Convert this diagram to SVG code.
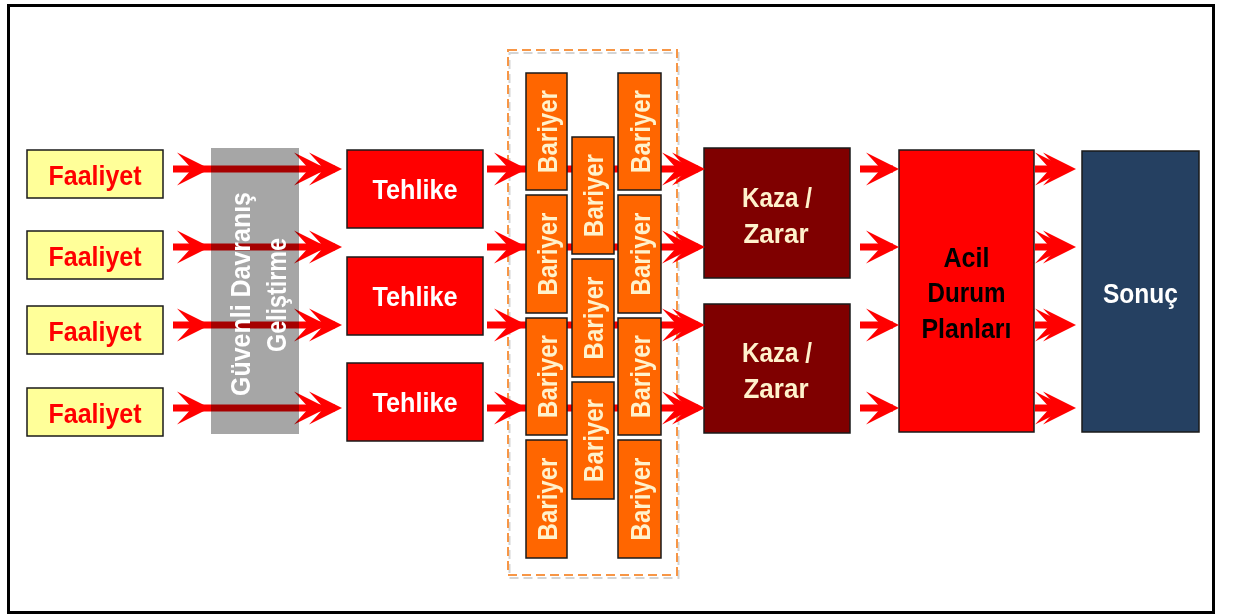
<svg xmlns="http://www.w3.org/2000/svg" xmlns:xlink="http://www.w3.org/1999/xlink" width="1236" height="615" viewBox="0 0 1236 615">
<defs>
<style>
.t{font-family:"Liberation Sans",Arial,sans-serif;font-weight:bold;font-size:28px;text-anchor:middle}
.box{stroke:#1a1a1a;stroke-width:1.5}
.faal{fill:#FFFF99}
.teh{fill:#FF0000}
.kaza{fill:#7F0000}
.acil{fill:#FF0000}
.son{fill:#254061}
.bar{fill:#FF6600}
.shaft{stroke:#FF0000;stroke-width:7;fill:none}
.hd{fill:#FF0000}
</style>
<path id="chev" d="M0,0 L-33,-16.5 L-18,0 L-33,16.5 Z"/>
</defs>
<rect width="1236" height="615" fill="#FFFFFF"/>
<rect x="8.5" y="5.5" width="1205" height="607" fill="#FFFFFF" stroke="#000000" stroke-width="3"/>
<g id="barrier-zone">
<rect x="509.5" y="53" width="169" height="525" fill="none" stroke="#D4D4D4" stroke-width="2" stroke-dasharray="9 5"/>
<rect x="508" y="50" width="169" height="525" fill="none" stroke="#F79646" stroke-width="2" stroke-dasharray="9 5"/>
</g>
<g id="faaliyet-1"><rect class="box faal" x="27" y="150" width="136" height="48"/><text class="t" x="95" y="185" fill="#FF0000" textLength="93" lengthAdjust="spacingAndGlyphs">Faaliyet</text></g>
<g id="faaliyet-2"><rect class="box faal" x="27" y="231" width="136" height="48"/><text class="t" x="95" y="266" fill="#FF0000" textLength="93" lengthAdjust="spacingAndGlyphs">Faaliyet</text></g>
<g id="faaliyet-3"><rect class="box faal" x="27" y="306" width="136" height="48"/><text class="t" x="95" y="341" fill="#FF0000" textLength="93" lengthAdjust="spacingAndGlyphs">Faaliyet</text></g>
<g id="faaliyet-4"><rect class="box faal" x="27" y="388" width="136" height="48"/><text class="t" x="95" y="423" fill="#FF0000" textLength="93" lengthAdjust="spacingAndGlyphs">Faaliyet</text></g>
<g id="tehlike-1"><rect class="box teh" x="347" y="150" width="136" height="78"/><text class="t" x="415" y="199" fill="#FFFFFF" textLength="85" lengthAdjust="spacingAndGlyphs">Tehlike</text></g>
<g id="tehlike-2"><rect class="box teh" x="347" y="257" width="136" height="78"/><text class="t" x="415" y="306" fill="#FFFFFF" textLength="85" lengthAdjust="spacingAndGlyphs">Tehlike</text></g>
<g id="tehlike-3"><rect class="box teh" x="347" y="363" width="136" height="78"/><text class="t" x="415" y="412" fill="#FFFFFF" textLength="85" lengthAdjust="spacingAndGlyphs">Tehlike</text></g>
<g id="kaza-1"><rect class="box kaza" x="704" y="148" width="146" height="130"/><text class="t" x="777" y="207" fill="#FFF2CC" textLength="70" lengthAdjust="spacingAndGlyphs">Kaza /</text><text class="t" x="776" y="243" fill="#FFF2CC" textLength="65" lengthAdjust="spacingAndGlyphs">Zarar</text></g>
<g id="kaza-2"><rect class="box kaza" x="704" y="304" width="146" height="129"/><text class="t" x="777" y="362" fill="#FFF2CC" textLength="70" lengthAdjust="spacingAndGlyphs">Kaza /</text><text class="t" x="776" y="398" fill="#FFF2CC" textLength="65" lengthAdjust="spacingAndGlyphs">Zarar</text></g>
<g id="acil"><rect class="box acil" x="899" y="150" width="135" height="282"/><text class="t" x="966.5" y="267" fill="#000000" textLength="46" lengthAdjust="spacingAndGlyphs">Acil</text><text class="t" x="966.5" y="302" fill="#000000" textLength="78" lengthAdjust="spacingAndGlyphs">Durum</text><text class="t" x="966.5" y="338" fill="#000000" textLength="90" lengthAdjust="spacingAndGlyphs">Planları</text></g>
<g id="sonuc"><rect class="box son" x="1082" y="151" width="117" height="281"/><text class="t" x="1140.5" y="303" fill="#FFFFFF" textLength="75" lengthAdjust="spacingAndGlyphs">Sonuç</text></g>
<g id="connectors">
<g id="row-1">
<line class="shaft" x1="173" y1="169" x2="335" y2="169"/>
<use href="#chev" class="hd" transform="translate(210,169)"/><use href="#chev" class="hd" transform="translate(327,169)"/><use href="#chev" class="hd" transform="translate(342,169)"/>
<line class="shaft" x1="487" y1="169" x2="698" y2="169"/>
<use href="#chev" class="hd" transform="translate(527,169)"/><use href="#chev" class="hd" transform="translate(695,169)"/><use href="#chev" class="hd" transform="translate(705,169)"/>
<line class="shaft" x1="860" y1="169" x2="893" y2="169"/>
<use href="#chev" class="hd" transform="translate(899,169)"/>
<line class="shaft" x1="1035" y1="169" x2="1068" y2="169"/>
<use href="#chev" class="hd" transform="translate(1068,169)"/><use href="#chev" class="hd" transform="translate(1076,169)"/>
</g>
<g id="row-2">
<line class="shaft" x1="173" y1="247" x2="335" y2="247"/>
<use href="#chev" class="hd" transform="translate(210,247)"/><use href="#chev" class="hd" transform="translate(327,247)"/><use href="#chev" class="hd" transform="translate(342,247)"/>
<line class="shaft" x1="487" y1="247" x2="698" y2="247"/>
<use href="#chev" class="hd" transform="translate(527,247)"/><use href="#chev" class="hd" transform="translate(695,247)"/><use href="#chev" class="hd" transform="translate(705,247)"/>
<line class="shaft" x1="860" y1="247" x2="893" y2="247"/>
<use href="#chev" class="hd" transform="translate(899,247)"/>
<line class="shaft" x1="1035" y1="247" x2="1068" y2="247"/>
<use href="#chev" class="hd" transform="translate(1068,247)"/><use href="#chev" class="hd" transform="translate(1076,247)"/>
</g>
<g id="row-3">
<line class="shaft" x1="173" y1="325" x2="335" y2="325"/>
<use href="#chev" class="hd" transform="translate(210,325)"/><use href="#chev" class="hd" transform="translate(327,325)"/><use href="#chev" class="hd" transform="translate(342,325)"/>
<line class="shaft" x1="487" y1="325" x2="698" y2="325"/>
<use href="#chev" class="hd" transform="translate(527,325)"/><use href="#chev" class="hd" transform="translate(695,325)"/><use href="#chev" class="hd" transform="translate(705,325)"/>
<line class="shaft" x1="860" y1="325" x2="893" y2="325"/>
<use href="#chev" class="hd" transform="translate(899,325)"/>
<line class="shaft" x1="1035" y1="325" x2="1068" y2="325"/>
<use href="#chev" class="hd" transform="translate(1068,325)"/><use href="#chev" class="hd" transform="translate(1076,325)"/>
</g>
<g id="row-4">
<line class="shaft" x1="173" y1="408" x2="335" y2="408"/>
<use href="#chev" class="hd" transform="translate(210,408)"/><use href="#chev" class="hd" transform="translate(327,408)"/><use href="#chev" class="hd" transform="translate(342,408)"/>
<line class="shaft" x1="487" y1="408" x2="698" y2="408"/>
<use href="#chev" class="hd" transform="translate(527,408)"/><use href="#chev" class="hd" transform="translate(695,408)"/><use href="#chev" class="hd" transform="translate(705,408)"/>
<line class="shaft" x1="860" y1="408" x2="893" y2="408"/>
<use href="#chev" class="hd" transform="translate(899,408)"/>
<line class="shaft" x1="1035" y1="408" x2="1068" y2="408"/>
<use href="#chev" class="hd" transform="translate(1068,408)"/><use href="#chev" class="hd" transform="translate(1076,408)"/>
</g>
</g>
<g id="guvenli-davranis">
<rect x="211" y="148" width="88" height="286" fill="#A6A6A6" style="mix-blend-mode:multiply"/>
<text class="t" transform="translate(250,294) rotate(-90)" fill="#FFFFFF" textLength="204" lengthAdjust="spacingAndGlyphs">Güvenli Davranış</text>
<text class="t" transform="translate(286,295) rotate(-90)" fill="#FFFFFF" textLength="114" lengthAdjust="spacingAndGlyphs">Geliştirme</text>
</g>
<g id="bariyer-1-1"><rect class="box bar" x="526" y="73" width="41" height="117"/><text class="t" transform="translate(556.5,131.5) rotate(-90)" fill="#FFF2CC" textLength="83" lengthAdjust="spacingAndGlyphs">Bariyer</text></g>
<g id="bariyer-1-2"><rect class="box bar" x="526" y="195" width="41" height="118"/><text class="t" transform="translate(556.5,254) rotate(-90)" fill="#FFF2CC" textLength="83" lengthAdjust="spacingAndGlyphs">Bariyer</text></g>
<g id="bariyer-1-3"><rect class="box bar" x="526" y="318" width="41" height="117"/><text class="t" transform="translate(556.5,376.5) rotate(-90)" fill="#FFF2CC" textLength="83" lengthAdjust="spacingAndGlyphs">Bariyer</text></g>
<g id="bariyer-1-4"><rect class="box bar" x="526" y="440" width="41" height="118"/><text class="t" transform="translate(556.5,499) rotate(-90)" fill="#FFF2CC" textLength="83" lengthAdjust="spacingAndGlyphs">Bariyer</text></g>
<g id="bariyer-2-1"><rect class="box bar" x="572" y="137" width="42" height="117"/><text class="t" transform="translate(603,195.5) rotate(-90)" fill="#FFF2CC" textLength="83" lengthAdjust="spacingAndGlyphs">Bariyer</text></g>
<g id="bariyer-2-2"><rect class="box bar" x="572" y="259" width="42" height="118"/><text class="t" transform="translate(603,318) rotate(-90)" fill="#FFF2CC" textLength="83" lengthAdjust="spacingAndGlyphs">Bariyer</text></g>
<g id="bariyer-2-3"><rect class="box bar" x="572" y="382" width="42" height="117"/><text class="t" transform="translate(603,440.5) rotate(-90)" fill="#FFF2CC" textLength="83" lengthAdjust="spacingAndGlyphs">Bariyer</text></g>
<g id="bariyer-3-1"><rect class="box bar" x="618" y="73" width="43" height="117"/><text class="t" transform="translate(649.5,131.5) rotate(-90)" fill="#FFF2CC" textLength="83" lengthAdjust="spacingAndGlyphs">Bariyer</text></g>
<g id="bariyer-3-2"><rect class="box bar" x="618" y="195" width="43" height="118"/><text class="t" transform="translate(649.5,254) rotate(-90)" fill="#FFF2CC" textLength="83" lengthAdjust="spacingAndGlyphs">Bariyer</text></g>
<g id="bariyer-3-3"><rect class="box bar" x="618" y="318" width="43" height="117"/><text class="t" transform="translate(649.5,376.5) rotate(-90)" fill="#FFF2CC" textLength="83" lengthAdjust="spacingAndGlyphs">Bariyer</text></g>
<g id="bariyer-3-4"><rect class="box bar" x="618" y="440" width="43" height="118"/><text class="t" transform="translate(649.5,499) rotate(-90)" fill="#FFF2CC" textLength="83" lengthAdjust="spacingAndGlyphs">Bariyer</text></g>
</svg>
